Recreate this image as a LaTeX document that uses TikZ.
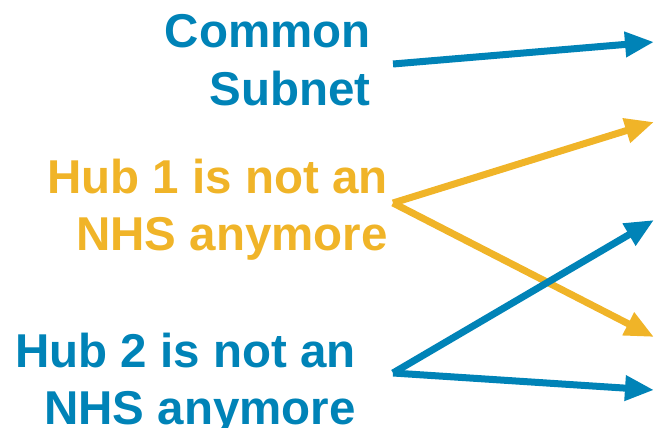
\documentclass[tikz,border=0pt]{standalone}
\usepackage{fontspec}
\setmainfont{Liberation Sans}
\usetikzlibrary{arrows.meta}
\definecolor{hubBlue}{RGB}{0,131,183}
\definecolor{hubYellow}{RGB}{240,180,40}
\tikzset{
  label/.style={anchor=base east, inner sep=0pt, font=\fontsize{47.5}{57}\selectfont\bfseries},
  blueLabel/.style={label, text=hubBlue},
  yellowLabel/.style={label, text=hubYellow},
  pointer/.style={line width=7pt, -{Triangle[length=29pt, width=24pt]}},
  bluePointer/.style={pointer, draw=hubBlue},
  yellowPointer/.style={pointer, draw=hubYellow}
}

\begin{document}
\begin{tikzpicture}[x=1pt, y=-1pt]
      \useasboundingbox (0,0) rectangle (654,428);

      \node[blueLabel] (common) at (371,48) {Common};
      \node[blueLabel] (subnet) at (371,106) {Subnet};

      \node[yellowLabel] (hubOneA) at (388,193) {Hub 1 is not an};
      \node[yellowLabel] (hubOneB) at (388,250) {NHS anymore};

      \node[blueLabel] (hubTwoA) at (356,367) {Hub 2 is not an};
      \node[blueLabel] (hubTwoB) at (356,424) {NHS anymore};

      \coordinate (commonStart) at (393,64);
      \coordinate (hubOneStart) at (393,203);
      \coordinate (hubTwoStart) at (393,373);

      \coordinate (tipA) at (654,42);
      \coordinate (tipB) at (654,122);
      \coordinate (tipC) at (654,220);
      \coordinate (tipD) at (654,337);
      \coordinate (tipE) at (654,390);

      \draw[bluePointer] (commonStart) -- (tipA);
      \draw[yellowPointer] (hubOneStart) -- (tipB);
      \draw[yellowPointer] (hubOneStart) -- (tipD);
      \draw[bluePointer] (hubTwoStart) -- (tipC);
      \draw[bluePointer] (hubTwoStart) -- (tipE);

\end{tikzpicture}
\end{document}
